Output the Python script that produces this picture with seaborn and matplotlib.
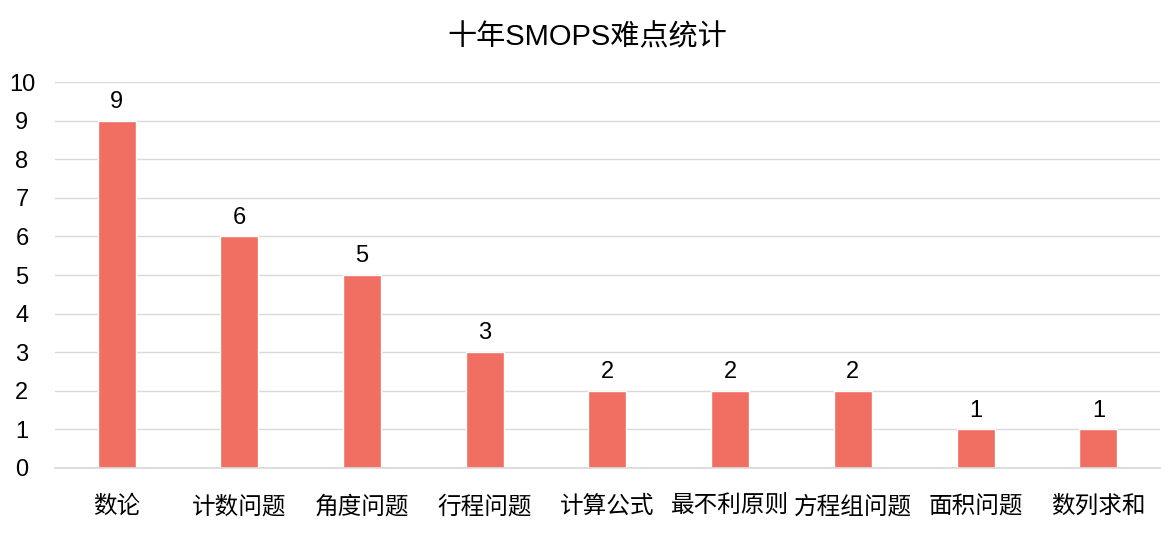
import matplotlib
matplotlib.use("Agg")
import matplotlib.pyplot as plt
import seaborn as sns
import pandas as pd

categories = ["数论", "计数问题", "角度问题", "行程问题", "计算公式", "最不利原则", "方程组问题", "面积问题", "数列求和"]
counts = [9, 6, 5, 3, 2, 2, 2, 1, 1]
title = "十年SMOPS难点统计"

sns.set_theme(style="white")
plt.rcParams['font.family'] = ['Liberation Sans', 'Noto Sans CJK SC', 'DejaVu Sans']

df = pd.DataFrame({"cat": categories, "n": counts})

fig = plt.figure(figsize=(11.75, 5.33), dpi=100)
ax = fig.add_axes([0.047, 0.122, 0.94, 0.724])

sns.barplot(data=df, x="cat", y="n", color="#F06E62", width=0.31, saturation=1, ax=ax)

# value labels above bars
for i, v in enumerate(counts):
    ax.text(i, v + 0.2, str(v), ha="center", va="bottom", fontsize=17, color="black")

ax.set_ylim(0, 10)
ax.set_xlim(-0.5, len(categories) - 0.5)
ax.set_yticks(range(0, 11))
ax.yaxis.grid(True, color="#d9d9d9", linewidth=1)
ax.set_axisbelow(True)
for s in ["top", "right", "left"]:
    ax.spines[s].set_visible(False)
ax.spines["bottom"].set_color("#d9d9d9")
ax.tick_params(axis="y", labelsize=17, length=0, pad=24, colors="black")
ax.tick_params(axis="x", labelsize=17, length=0, pad=20, colors="black")
for lab in ax.get_yticklabels():
    lab.set_horizontalalignment("center")
ax.set_xlabel("")
ax.set_ylabel("")
fig.text(0.5, 0.929, title, fontsize=21, ha="center", va="center", color="black")

fig.savefig("out.png", dpi=100)
